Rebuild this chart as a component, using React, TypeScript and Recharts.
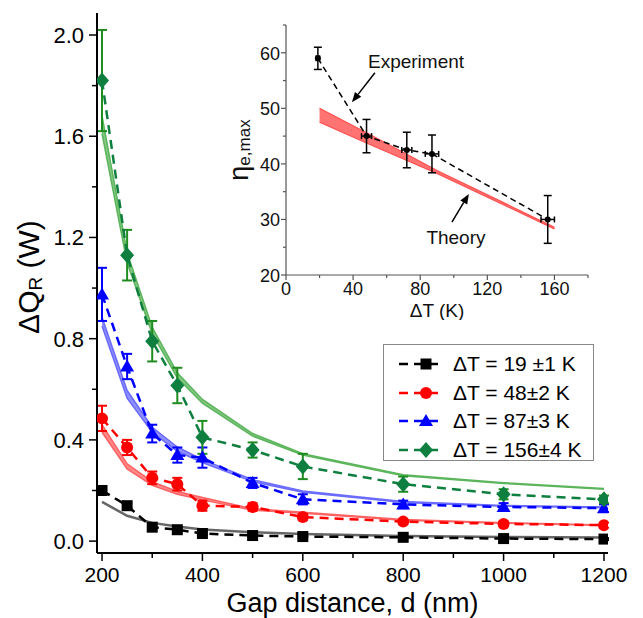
import React from "react";
import {
  ComposedChart,
  Line,
  Area,
  Scatter,
  XAxis,
  YAxis,
  ErrorBar,
  ReferenceLine,
  ReferenceDot,
  Label,
} from "recharts";

const FONT = "'Liberation Sans', Arial, Helvetica, sans-serif";

// ---- main plot: gap distance d (nm) ----
const gaps = [200, 250, 300, 350, 400, 500, 600, 800, 1000, 1200];

// measured dQ_R (W) with error
const q19 = [0.2, 0.14, 0.055, 0.045, 0.03, 0.022, 0.018, 0.015, 0.01, 0.008];
const q19Err = [0.012, 0.01, 0.008, 0.006, 0.006, 0.005, 0.005, 0.004, 0.004, 0.004];
const q48 = [0.485, 0.37, 0.25, 0.225, 0.14, 0.135, 0.095, 0.077, 0.068, 0.063];
const q48Err = [0.05, 0.03, 0.025, 0.025, 0.02, 0.015, 0.012, 0.01, 0.01, 0.01];
const q87 = [0.975, 0.69, 0.425, 0.34, 0.33, 0.23, 0.165, 0.145, 0.135, 0.13];
const q87Err = [0.105, 0.05, 0.035, 0.03, 0.04, 0.02, 0.02, 0.015, 0.015, 0.015];
const q156 = [1.82, 1.13, 0.79, 0.615, 0.41, 0.36, 0.295, 0.225, 0.185, 0.165];
const q156Err = [0.2, 0.1, 0.08, 0.07, 0.065, 0.03, 0.05, 0.03, 0.02, 0.015];

// theory (bands: low / high)
const th19 = [0.155, 0.1, 0.072, 0.058, 0.046, 0.035, 0.028, 0.02, 0.016, 0.014];
const th48Lo = [0.43, 0.285, 0.22, 0.185, 0.163, 0.122, 0.11, 0.082, 0.071, 0.062];
const th48Hi = [0.46, 0.305, 0.235, 0.196, 0.172, 0.128, 0.114, 0.085, 0.073, 0.064];
const th87Lo = [0.85, 0.565, 0.43, 0.355, 0.31, 0.235, 0.193, 0.153, 0.138, 0.132];
const th87Hi = [0.885, 0.595, 0.45, 0.372, 0.322, 0.243, 0.198, 0.157, 0.141, 0.135];
const th156Lo = [1.61, 1.1, 0.82, 0.645, 0.545, 0.415, 0.34, 0.258, 0.228, 0.205];
const th156Hi = [1.68, 1.14, 0.845, 0.665, 0.56, 0.425, 0.345, 0.262, 0.231, 0.208];

const legendLabels = ["ΔT = 19 ±1 K", "ΔT = 48±2 K", "ΔT = 87±3 K", "ΔT = 156±4 K"];

const mainXTicks = [200, 300, 400, 500, 600, 700, 800, 900, 1000, 1100, 1200];
const mainYTicks = [0, 0.2, 0.4, 0.6, 0.8, 1.0, 1.2, 1.4, 1.6, 1.8, 2.0];

// ---- inset: eta_e,max vs dT ----
const insetDT = [19, 48, 72, 87, 156];
const insetEta = [59, 45, 42.5, 41.8, 30];
const insetEtaErr = [2, 3, 3.2, 3.4, 4.3];
const insetDTErr = [1, 3, 3, 4, 4];

const theoryDT = [20, 50, 90, 160];
const theoryLo = [47.5, 43.5, 38.3, 28.3];
const theoryHi = [50, 45.3, 38.8, 28.6];

const insetXTicks = [0, 20, 40, 60, 80, 100, 120, 140, 160, 180];
const insetYTicks = [20, 25, 30, 35, 40, 45, 50, 55, 60, 65];

const mainRows = gaps.map((d, i) => ({
  d,
  q19: q19[i], e19: q19Err[i],
  q48: q48[i], e48: q48Err[i],
  q87: q87[i], e87: q87Err[i],
  q156: q156[i], e156: q156Err[i],
  t19: th19[i],
  t48: [th48Lo[i], th48Hi[i]],
  t87: [th87Lo[i], th87Hi[i]],
  t156: [th156Lo[i], th156Hi[i]],
}));

const insetExp = insetDT.map((dT, i) => ({
  dT, eta: insetEta[i], etaErr: insetEtaErr[i], dTErr: insetDTErr[i],
}));
const insetTheory = theoryDT.map((dT, i) => ({ dT, band: [theoryLo[i], theoryHi[i]] }));

const series = [
  { key: "q19", err: "e19", color: "#000000", errColor: "#000000", shape: "square" },
  { key: "q48", err: "e48", color: "#ff0000", errColor: "#ff0000", shape: "circle" },
  { key: "q87", err: "e87", color: "#0000ff", errColor: "#0000ff", shape: "triangle" },
  { key: "q156", err: "e156", color: "#0f7f3f", errColor: "#1e8c1e", shape: "diamond" },
];

const bands = [
  { key: "t48", color: "#ff6262" },
  { key: "t87", color: "#6a6aff" },
  { key: "t156", color: "#5cb55c" },
];

function Marker({ shape, cx, cy, color }: any) {
  if (cx == null || cy == null) return null;
  if (shape === "square")
    return <rect x={cx - 5.5} y={cy - 5.5} width={11} height={11} fill={color} />;
  if (shape === "circle") return <circle cx={cx} cy={cy} r={6} fill={color} />;
  if (shape === "triangle")
    return <polygon points={`${cx},${cy - 7} ${cx + 7},${cy + 5} ${cx - 7},${cy + 5}`} fill={color} />;
  return <polygon points={`${cx},${cy - 8} ${cx + 7},${cy} ${cx},${cy + 8} ${cx - 7},${cy}`} fill={color} />;
}

// tick renderers (tickSize 0, so x/y sit on the axis line)
const MainXTick = ({ x, y, payload }: any) => {
  const v = payload.value;
  const major = v % 200 === 0;
  return (
    <g>
      <line x1={x} x2={x} y1={y} y2={y + (major ? 8 : 5)} stroke="#000" strokeWidth={1.5} />
      {major && (
        <text x={x} y={y + 29} textAnchor="middle" fontSize={21} fontFamily={FONT} fill="#000">
          {v}
        </text>
      )}
    </g>
  );
};
const MainYTick = ({ x, y, payload }: any) => {
  const v = payload.value;
  const major = Math.round(v * 10) % 4 === 0;
  return (
    <g>
      <line x1={x - (major ? 8 : 5)} x2={x} y1={y} y2={y} stroke="#000" strokeWidth={1.5} />
      {major && (
        <text x={x - 13} y={y + 8} textAnchor="end" fontSize={22} fontFamily={FONT} fill="#000">
          {v.toFixed(1)}
        </text>
      )}
    </g>
  );
};
const MainTopTick = ({ x, y, payload }: any) => (
  <line x1={x} x2={x} y1={y} y2={y + (payload.value % 200 === 0 ? 7 : 5)} stroke="#000" strokeWidth={1.5} />
);
const MainRightTick = ({ x, y, payload }: any) => {
  const major = Math.round(payload.value * 10) % 4 === 0;
  return <line x1={x - (major ? 8 : 5)} x2={x} y1={y} y2={y} stroke="#000" strokeWidth={1.5} />;
};

const InsetXTick = ({ x, y, payload }: any) => {
  const v = payload.value;
  const major = v % 40 === 0;
  return (
    <g>
      <line x1={x} x2={x} y1={y} y2={y + (major ? 5 : 3)} stroke="#555" strokeWidth={1.2} />
      {major && (
        <text x={x} y={y + 20} textAnchor="middle" fontSize={18} fontFamily={FONT} fill="#111">
          {v}
        </text>
      )}
    </g>
  );
};
const InsetYTick = ({ x, y, payload }: any) => {
  const v = payload.value;
  const major = v % 10 === 0;
  return (
    <g>
      <line x1={x - (major ? 5 : 3)} x2={x} y1={y} y2={y} stroke="#555" strokeWidth={1.2} />
      {major && (
        <text x={x - 6} y={y + 7} textAnchor="end" fontSize={18} fontFamily={FONT} fill="#111">
          {v}
        </text>
      )}
    </g>
  );
};
const InsetTopTick = ({ x, y }: any) => (
  <line x1={x} x2={x} y1={y} y2={y + 3} stroke="#555" strokeWidth={1.2} />
);
const InsetRightTick = ({ x, y }: any) => (
  <line x1={x - 3} x2={x} y1={y} y2={y} stroke="#555" strokeWidth={1.2} />
);

const Arrow = ({ x1, y1, x2, y2 }: any) => {
  const a = Math.atan2(y2 - y1, x2 - x1);
  const L = 10;
  const W = 4;
  const bx = x2 - L * Math.cos(a);
  const by = y2 - L * Math.sin(a);
  const px = -Math.sin(a) * W;
  const py = Math.cos(a) * W;
  return (
    <g>
      <line x1={x1} y1={y1} x2={bx} y2={by} stroke="#000" strokeWidth={1.5} />
      <polygon points={`${x2},${y2} ${bx + px},${by + py} ${bx - px},${by - py}`} fill="#000" />
    </g>
  );
};

function Legend() {
  return (
    <div
      style={{
        position: "absolute",
        left: 383,
        top: 344,
        width: 211,
        height: 117,
        border: "1px solid #888",
        background: "#fff",
        boxSizing: "border-box",
      }}
    >
      {series.map((s, i) => (
        <div
          key={s.key}
          style={{ position: "absolute", left: 0, top: 5 + i * 28.5, height: 28, display: "flex", alignItems: "center" }}
        >
          <svg width={56} height={28} style={{ marginLeft: 12 }}>
            <line x1={3} x2={42} y1={14} y2={14} stroke={s.color} strokeWidth={2.5} strokeDasharray="9 6" />
            <Marker shape={s.shape} cx={30} cy={14} color={s.color} />
          </svg>
          <span style={{ fontFamily: FONT, fontSize: 21, color: "#000", marginLeft: 1, whiteSpace: "nowrap" }}>
            {legendLabels[i]}
          </span>
        </div>
      ))}
    </div>
  );
}

function Inset() {
  return (
    <div style={{ position: "absolute", left: 218, top: 15, width: 382, height: 305 }}>
      <ComposedChart width={382} height={305} data={insetTheory} margin={{ top: 10, right: 12, bottom: 0, left: 0 }}>
        <XAxis
          xAxisId="b"
          dataKey="dT"
          type="number"
          domain={[0, 180]}
          ticks={insetXTicks}
          interval={0}
          allowDataOverflow
          height={45}
          tickSize={0}
          tickMargin={0}
          tickLine={false}
          axisLine={{ stroke: "#555", strokeWidth: 1.2 }}
          tick={<InsetXTick />}
        >
          <Label
            content={({ viewBox }: any) => (
              <text
                x={viewBox.x + viewBox.width / 2}
                y={viewBox.y + 42}
                textAnchor="middle"
                fontSize={19}
                fontFamily={FONT}
                fill="#111"
              >
                ΔT (K)
              </text>
            )}
          />
        </XAxis>
        <XAxis
          xAxisId="t"
          dataKey="dT"
          type="number"
          orientation="top"
          domain={[0, 180]}
          ticks={insetXTicks}
          interval={0}
          allowDataOverflow
          height={0}
          tickSize={0}
          tickMargin={0}
          tickLine={false}
          axisLine={{ stroke: "#555", strokeWidth: 1.2 }}
          tick={<InsetTopTick />}
        />
        <YAxis
          yAxisId="l"
          type="number"
          domain={[20, 65]}
          ticks={insetYTicks}
          interval={0}
          allowDataOverflow
          width={68}
          tickSize={0}
          tickMargin={0}
          tickLine={false}
          axisLine={{ stroke: "#555", strokeWidth: 1.2 }}
          tick={<InsetYTick />}
        >
          <Label
            content={({ viewBox }: any) => {
              const cx = viewBox.x + 21;
              const cy = viewBox.y + viewBox.height / 2;
              return (
                <text
                  x={cx}
                  y={cy}
                  transform={`rotate(-90, ${cx}, ${cy})`}
                  textAnchor="middle"
                  dominantBaseline="central"
                  fontFamily={FONT}
                  fill="#111"
                >
                  <tspan fontSize={27}>η</tspan>
                  <tspan fontSize={17} dy={5}>e,max</tspan>
                </text>
              );
            }}
          />
        </YAxis>
        <YAxis
          yAxisId="r"
          type="number"
          orientation="right"
          domain={[20, 65]}
          ticks={insetYTicks}
          interval={0}
          allowDataOverflow
          width={0}
          tickSize={0}
          tickMargin={0}
          tickLine={false}
          axisLine={{ stroke: "#555", strokeWidth: 1.2 }}
          tick={<InsetRightTick />}
        />
        <Area
          xAxisId="b"
          yAxisId="l"
          type="linear"
          dataKey="band"
          stroke="#ff5050"
          strokeWidth={1.2}
          fill="#ff6464"
          fillOpacity={0.9}
          isAnimationActive={false}
          dot={false}
          activeDot={false}
        />
        <Scatter
          xAxisId="b"
          yAxisId="l"
          data={insetExp}
          dataKey="eta"
          fill="#000"
          line={{ stroke: "#000", strokeWidth: 1.5, strokeDasharray: "6 4" }}
          shape={(p: any) => <circle cx={p.cx} cy={p.cy} r={3} fill="#000" />}
          isAnimationActive={false}
        >
          <ErrorBar dataKey="etaErr" direction="y" width={4} stroke="#000" strokeWidth={1.5} />
          <ErrorBar dataKey="dTErr" direction="x" width={3} stroke="#000" strokeWidth={1.5} />
        </Scatter>
        <ReferenceLine
          xAxisId="b"
          yAxisId="l"
          segment={[{ x: 53, y: 56.4 }, { x: 39.3, y: 51.1 }]}
          shape={(p: any) => <Arrow {...p} />}
        />
        <ReferenceLine
          xAxisId="b"
          yAxisId="l"
          segment={[{ x: 98.9, y: 29.5 }, { x: 109, y: 34.6 }]}
          shape={(p: any) => <Arrow {...p} />}
        />
        <ReferenceDot
          xAxisId="b"
          yAxisId="l"
          x={77.5}
          y={58.5}
          r={0}
          fill="none"
          stroke="none"
          label={{ value: "Experiment", position: "center", fontSize: 19, fill: "#111", fontFamily: FONT }}
        />
        <ReferenceDot
          xAxisId="b"
          yAxisId="l"
          x={101.3}
          y={26.8}
          r={0}
          fill="none"
          stroke="none"
          label={{ value: "Theory", position: "center", fontSize: 19, fill: "#111", fontFamily: FONT }}
        />
      </ComposedChart>
    </div>
  );
}

export default function App() {
  return (
    <div style={{ position: "absolute", left: 0, top: 0, width: 643, height: 618, background: "#fff" }}>
      <ComposedChart width={643} height={618} data={mainRows} margin={{ top: 13, right: 35, bottom: 0, left: 0 }}>
        <XAxis
          xAxisId="b"
          dataKey="d"
          type="number"
          domain={[190, 1208]}
          ticks={mainXTicks}
          interval={0}
          allowDataOverflow
          height={65}
          tickSize={0}
          tickMargin={0}
          tickLine={false}
          axisLine={{ stroke: "#000", strokeWidth: 2 }}
          tick={<MainXTick />}
        >
          <Label
            content={({ viewBox }: any) => (
              <text
                x={viewBox.x + viewBox.width / 2}
                y={viewBox.y + 59}
                textAnchor="middle"
                fontSize={27}
                fontFamily={FONT}
                fill="#000"
              >
                Gap distance, d (nm)
              </text>
            )}
          />
        </XAxis>
        <XAxis
          xAxisId="t"
          dataKey="d"
          type="number"
          orientation="top"
          domain={[190, 1208]}
          ticks={mainXTicks}
          interval={0}
          allowDataOverflow
          height={0}
          tickSize={0}
          tickMargin={0}
          tickLine={false}
          axisLine={{ stroke: "#000", strokeWidth: 2 }}
          tick={<MainTopTick />}
        />
        <YAxis
          yAxisId="l"
          type="number"
          domain={[-0.047, 2.087]}
          ticks={mainYTicks}
          interval={0}
          allowDataOverflow
          width={97}
          tickSize={0}
          tickMargin={0}
          tickLine={false}
          axisLine={{ stroke: "#000", strokeWidth: 2 }}
          tick={<MainYTick />}
        >
          <Label
            content={({ viewBox }: any) => {
              const cx = viewBox.x + 28;
              const cy = viewBox.y + viewBox.height / 2 - 6;
              return (
                <text
                  x={cx}
                  y={cy}
                  transform={`rotate(-90, ${cx}, ${cy})`}
                  textAnchor="middle"
                  dominantBaseline="central"
                  fontSize={30}
                  fontFamily={FONT}
                  fill="#000"
                >
                  ΔQ
                  <tspan fontSize={19} dy={7}>R</tspan>
                  <tspan dy={-7}> (W)</tspan>
                </text>
              );
            }}
          />
        </YAxis>
        <YAxis
          yAxisId="r"
          type="number"
          orientation="right"
          domain={[-0.047, 2.087]}
          ticks={mainYTicks}
          interval={0}
          allowDataOverflow
          width={0}
          tickSize={0}
          tickMargin={0}
          tickLine={false}
          axisLine={{ stroke: "#000", strokeWidth: 2 }}
          tick={<MainRightTick />}
        />

        <Line
          xAxisId="b"
          yAxisId="l"
          type="linear"
          dataKey="t19"
          stroke="#555"
          strokeWidth={2.5}
          strokeOpacity={0.9}
          dot={false}
          activeDot={false}
          isAnimationActive={false}
        />
        {bands.map((b) => (
          <Area
            key={b.key}
            xAxisId="b"
            yAxisId="l"
            type="linear"
            dataKey={b.key}
            stroke={b.color}
            strokeWidth={1.5}
            fill={b.color}
            fillOpacity={0.75}
            dot={false}
            activeDot={false}
            isAnimationActive={false}
          />
        ))}
        {series.map((s) => (
          <Line
            key={s.key}
            xAxisId="b"
            yAxisId="l"
            type="linear"
            dataKey={s.key}
            stroke={s.color}
            strokeWidth={2.5}
            strokeDasharray="9 6"
            dot={(p: any) => <Marker key={`${s.key}-${p.index}`} shape={s.shape} cx={p.cx} cy={p.cy} color={s.color} />}
            activeDot={false}
            isAnimationActive={false}
          >
            <ErrorBar dataKey={s.err} direction="y" width={5} stroke={s.errColor} strokeWidth={2} />
          </Line>
        ))}
      </ComposedChart>
      <Legend />
      <Inset />
    </div>
  );
}
